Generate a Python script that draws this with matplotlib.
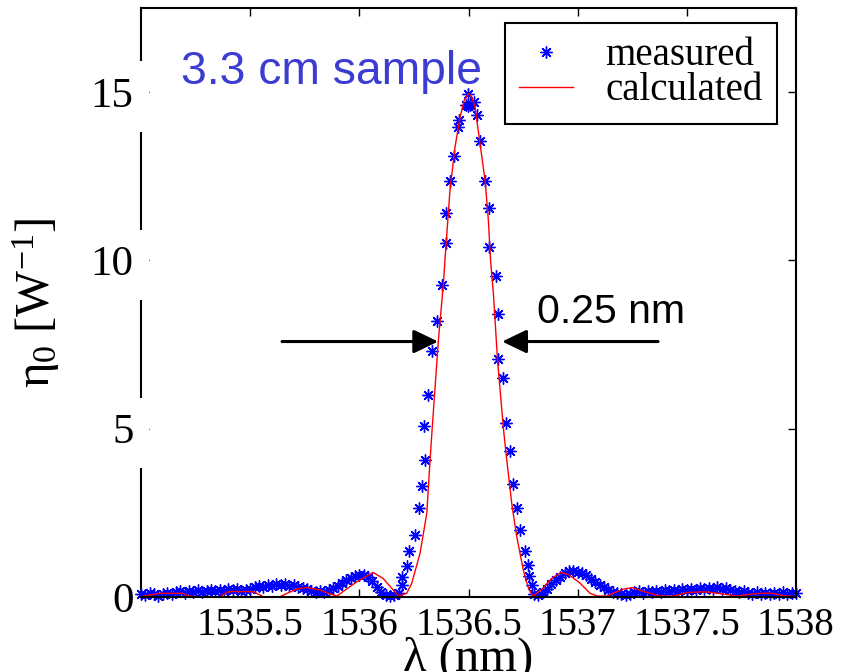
import numpy as np
import matplotlib
matplotlib.use('Agg')
import matplotlib.pyplot as plt

plt.rcParams['font.family'] = ['Liberation Serif', 'DejaVu Serif']
plt.rcParams['mathtext.fontset'] = 'custom'
plt.rcParams['mathtext.rm'] = 'Liberation Serif'
plt.rcParams['mathtext.it'] = 'Liberation Serif:italic'

# measured points (nm, 1/W)
meas_left_x = [1535.00, 1535.02, 1535.04, 1535.06, 1535.08, 1535.10, 1535.12, 1535.14, 1535.16, 1535.18,
               1535.20, 1535.22, 1535.24, 1535.26, 1535.28, 1535.30, 1535.32, 1535.34, 1535.36, 1535.38,
               1535.40, 1535.42, 1535.44, 1535.46, 1535.48, 1535.50, 1535.52, 1535.54, 1535.56, 1535.58,
               1535.60, 1535.62, 1535.64, 1535.66, 1535.68, 1535.70, 1535.72, 1535.74, 1535.76, 1535.78,
               1535.80, 1535.82, 1535.84, 1535.86, 1535.88, 1535.90, 1535.92, 1535.94, 1535.96, 1535.98,
               1536.00, 1536.02, 1536.04, 1536.06, 1536.08, 1536.10, 1536.12, 1536.14, 1536.16, 1536.18]
meas_left_y = [0.10, 0.05, 0.12, 0.08, 0.03, 0.10, 0.13, 0.08, 0.14, 0.17,
               0.12, 0.18, 0.15, 0.20, 0.14, 0.19, 0.22, 0.17, 0.21, 0.18,
               0.24, 0.20, 0.23, 0.17, 0.22, 0.25, 0.29, 0.33, 0.30, 0.37,
               0.34, 0.39, 0.36, 0.38, 0.33, 0.35, 0.30, 0.27, 0.24, 0.19,
               0.15, 0.18, 0.14, 0.20, 0.27, 0.33, 0.42, 0.50, 0.55, 0.62,
               0.66, 0.64, 0.58, 0.48, 0.30, 0.15, 0.07, 0.03, 0.06, 0.12]

meas_peak_x = [1536.194, 1536.197, 1536.217, 1536.228, 1536.255, 1536.273, 1536.286, 1536.299, 1536.297,
               1536.316, 1536.334, 1536.354, 1536.377, 1536.397, 1536.399, 1536.415, 1536.433, 1536.450,
               1536.458, 1536.490, 1536.497, 1536.499, 1536.507, 1536.525, 1536.538, 1536.553, 1536.576,
               1536.594, 1536.596, 1536.625, 1536.637, 1536.633, 1536.657, 1536.672, 1536.690, 1536.702,
               1536.721, 1536.736, 1536.759, 1536.771, 1536.777, 1536.790]
meas_peak_y = [0.36, 0.58, 0.93, 1.36, 1.83, 2.63, 3.31, 4.06, 5.08,
               5.99, 7.30, 8.19, 9.26, 10.53, 11.42, 12.35, 13.09, 13.96,
               14.18, 14.63, 14.60, 14.95, 14.63, 14.70, 14.32, 13.56, 12.35,
               11.57, 10.40, 9.55, 8.40, 7.07, 6.52, 5.16, 4.35, 3.35,
               2.64, 1.99, 1.36, 0.96, 0.63, 0.37]

meas_right_x = [1536.80, 1536.82, 1536.84, 1536.86, 1536.88, 1536.90, 1536.92, 1536.94, 1536.96, 1536.98,
                1537.00, 1537.02, 1537.04, 1537.06, 1537.08, 1537.10, 1537.12, 1537.14, 1537.16, 1537.18,
                1537.20, 1537.22, 1537.24, 1537.26, 1537.28, 1537.30, 1537.32, 1537.34, 1537.36, 1537.38,
                1537.40, 1537.42, 1537.44, 1537.46, 1537.48, 1537.50, 1537.52, 1537.54, 1537.56, 1537.58,
                1537.60, 1537.62, 1537.64, 1537.66, 1537.68, 1537.70, 1537.72, 1537.74, 1537.76, 1537.78,
                1537.80, 1537.82, 1537.84, 1537.86, 1537.88, 1537.90, 1537.92, 1537.94, 1537.96, 1537.98,
                1538.00]
meas_right_y = [0.10, 0.05, 0.14, 0.25, 0.38, 0.50, 0.60, 0.70, 0.76, 0.78,
                0.74, 0.70, 0.64, 0.53, 0.44, 0.36, 0.29, 0.22, 0.16, 0.12,
                0.08, 0.06, 0.10, 0.14, 0.17, 0.13, 0.18, 0.15, 0.19, 0.16,
                0.20, 0.17, 0.22, 0.19, 0.24, 0.21, 0.25, 0.22, 0.27, 0.24,
                0.28, 0.25, 0.29, 0.24, 0.27, 0.22, 0.19, 0.15, 0.18, 0.12,
                0.09, 0.14, 0.10, 0.13, 0.08, 0.12, 0.09, 0.14, 0.10, 0.13,
                0.11]

# calculated curve
calc_x = [1535.000, 1535.040, 1535.087, 1535.192, 1535.211, 1535.257, 1535.362, 1535.394, 1535.408,
          1535.513, 1535.545, 1535.559, 1535.637, 1535.669, 1535.715, 1535.760, 1535.820, 1535.866,
          1535.898, 1535.925, 1535.990, 1536.063, 1536.109, 1536.148, 1536.180, 1536.217, 1536.240,
          1536.278, 1536.309, 1536.321, 1536.332, 1536.362, 1536.385, 1536.393, 1536.415, 1536.438,
          1536.461, 1536.480, 1536.500, 1536.515, 1536.530, 1536.553, 1536.576, 1536.591, 1536.601,
          1536.614, 1536.633, 1536.660, 1536.672, 1536.698, 1536.721, 1536.751, 1536.775, 1536.795,
          1536.840, 1536.880, 1536.925, 1536.960, 1537.011, 1537.057, 1537.089, 1537.135, 1537.162,
          1537.208, 1537.249, 1537.286, 1537.332, 1537.378, 1537.437, 1537.501, 1537.561, 1537.592,
          1537.666, 1537.730, 1537.790, 1537.835, 1537.895, 1537.941, 1538.000]
calc_y = [0.01, 0.06, 0.11, 0.11, 0.04, 0.01, 0.01, 0.14, 0.16,
          0.16, 0.06, 0.01, 0.01, 0.11, 0.24, 0.28, 0.21, 0.09,
          0.03, 0.16, 0.46, 0.73, 0.55, 0.26, 0.03, 0.11, 0.41,
          1.30, 2.49, 3.77, 4.86, 7.63, 9.31, 10.10, 12.08, 13.36,
          14.25, 14.75, 14.96, 14.85, 14.55, 13.46, 12.37, 11.19, 10.00,
          9.01, 7.03, 5.00, 4.26, 2.78, 1.79, 0.80, 0.25, 0.02,
          0.25, 0.55, 0.73, 0.66, 0.41, 0.11, 0.03, 0.03, 0.11,
          0.23, 0.28, 0.20, 0.11, 0.03, 0.03, 0.13, 0.15, 0.15,
          0.09, 0.03, 0.08, 0.11, 0.11, 0.04, 0.01]

x_ticks = [1535.5, 1536, 1536.5, 1537, 1537.5, 1538]
x_tick_labels = ['1535.5', '1536', '1536.5', '1537', '1537.5', '1538']
y_ticks = [0, 5, 10, 15]

# FWHM arrows
half_max = 7.59
fwhm_left = (1535.646, 1536.361)
fwhm_right = (1537.368, 1536.654)

meas_x = np.array(meas_left_x + meas_peak_x + meas_right_x)
meas_y = np.array(meas_left_y + meas_peak_y + meas_right_y)

fig = plt.figure(figsize=(8.45, 6.72), dpi=100)
ax = fig.add_axes([0.1669, 0.1116, 0.7751, 0.8765])

ax.plot(meas_x, meas_y, linestyle='none', marker=(8, 2, 0), markersize=8.6,
        markeredgewidth=1.0, color='#0000ff', label='measured', clip_on=False)
ax.plot(calc_x, calc_y, color='#ff0000', lw=1.0, label='calculated')

ax.set_xlim(1535, 1538)
ax.set_ylim(0, 17.5)
ax.set_xticks(x_ticks)
ax.set_xticklabels(x_tick_labels)
ax.set_yticks(y_ticks)

ax.tick_params(direction='in', length=5.5, width=1.0, top=True, right=True)
ax.tick_params(axis='x', pad=7, labelsize=28)
ax.tick_params(axis='y', pad=5.5, labelsize=31)
for s in ax.spines.values():
    s.set_linewidth(1.5)
ax.spines['left'].set_zorder(1.0)

# white backgrounds behind the y tick labels (they cut the left axis line)
for tk in ax.yaxis.get_major_ticks()[1:]:
    tk.label1.set_bbox(dict(facecolor='white', edgecolor='none', pad=11.5))

ax.set_xlabel('λ (nm)', fontsize=35)
ax.xaxis.set_label_coords(0.5, -0.068)
ax.set_ylabel(r'$\mathrm{\eta_0\ [W^{-1}]}$', fontsize=35)
ax.yaxis.set_label_coords(-0.12, 0.5)

ax.text(1535.183, 15.25, '3.3 cm sample', fontsize=33.3, color='#3c3cd2',
        family='Liberation Sans', ha='left', va='baseline')
ax.text(1536.814, 8.14, '0.25 nm', fontsize=29.5, color='black',
        family='Liberation Sans', ha='left', va='baseline')

arrow_style = '-|>,head_length=0.75,head_width=0.36'
ax.annotate('', xy=(fwhm_left[1], half_max), xytext=(fwhm_left[0], half_max),
            arrowprops=dict(arrowstyle=arrow_style, color='black', lw=2.2,
                            mutation_scale=20, shrinkA=0, shrinkB=0))
ax.annotate('', xy=(fwhm_right[1], half_max), xytext=(fwhm_right[0], half_max),
            arrowprops=dict(arrowstyle=arrow_style, color='black', lw=2.2,
                            mutation_scale=20, shrinkA=0, shrinkB=0))

leg = ax.legend(loc='upper right', bbox_to_anchor=(0.971, 0.9745), fontsize=28,
                frameon=True, fancybox=False, framealpha=1, edgecolor='black',
                borderpad=0.37, labelspacing=-0.05, handlelength=1.39,
                handletextpad=0.82, borderaxespad=0)
leg.get_frame().set_linewidth(1.5)

fig.savefig('out.png', dpi=100)
